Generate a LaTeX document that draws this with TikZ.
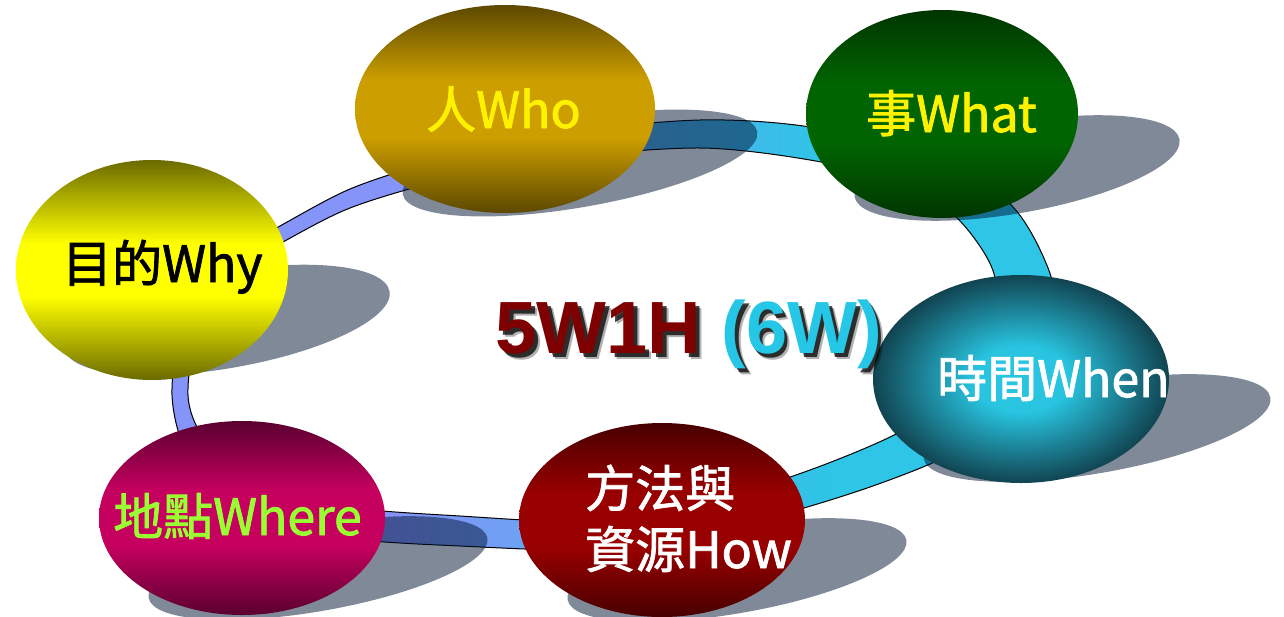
\documentclass[tikz,border=0pt]{standalone}
\usepackage{fontspec}
\usetikzlibrary{shapes.geometric}
\newfontfamily\cjk{Noto Sans CJK TC}[FakeBold=1.6]
\newfontfamily\titlefont{Liberation Sans}
\definecolor{ringL}{HTML}{8494F8}
\definecolor{ringR}{HTML}{2EC5E6}
\definecolor{shadowc}{HTML}{001433}
\definecolor{whoD}{HTML}{5C4800}
\definecolor{whoB}{HTML}{CC9E00}
\definecolor{whatD}{HTML}{003500}
\definecolor{whatB}{HTML}{006400}
\definecolor{whyD}{HTML}{6A6A00}
\definecolor{whyB}{HTML}{FFFF00}
\definecolor{whereD}{HTML}{5A0030}
\definecolor{whereB}{HTML}{C6005F}
\definecolor{howD}{HTML}{480000}
\definecolor{howB}{HTML}{990000}
\definecolor{whenC}{HTML}{28C4E0}
\definecolor{whenE}{HTML}{114451}
\definecolor{tRed}{HTML}{7F0000}
\definecolor{tBlue}{HTML}{26C6E6}
\definecolor{wGreen}{HTML}{99FF33}
\pgfdeclarehorizontalshading{ringshade}{100bp}{color(0bp)=(ringL); color(38bp)=(ringL); color(62bp)=(ringR); color(100bp)=(ringR)}
\pgfdeclareverticalshading{whoshade}{100bp}{color(0bp)=(whoD); color(25bp)=(whoD); color(43bp)=(whoB); color(57bp)=(whoB); color(75bp)=(whoD); color(100bp)=(whoD)}
\pgfdeclareverticalshading{whatshade}{100bp}{color(0bp)=(whatD); color(25bp)=(whatD); color(43bp)=(whatB); color(57bp)=(whatB); color(75bp)=(whatD); color(100bp)=(whatD)}
\pgfdeclareverticalshading{whyshade}{100bp}{color(0bp)=(whyD); color(25bp)=(whyD); color(44bp)=(whyB); color(56bp)=(whyB); color(75bp)=(whyD); color(100bp)=(whyD)}
\pgfdeclareverticalshading{whereshade}{100bp}{color(0bp)=(whereD); color(25bp)=(whereD); color(43bp)=(whereB); color(57bp)=(whereB); color(75bp)=(whereD); color(100bp)=(whereD)}
\pgfdeclareverticalshading{howshade}{100bp}{color(0bp)=(howD); color(25bp)=(howD); color(43bp)=(howB); color(57bp)=(howB); color(75bp)=(howD); color(100bp)=(howD)}
\pgfdeclareradialshading{whenshade}{\pgfpoint{0bp}{0bp}}{color(0bp)=(whenC); color(8bp)=(whenC); color(25bp)=(whenE); color(50bp)=(whenE)}
\tikzset{
  blob/.style={ellipse, inner sep=0pt, draw=none},
  lbl/.style={font=\cjk\fontsize{50}{58}\selectfont, inner sep=0pt, anchor=base west},
  ttl/.style={font=\titlefont\bfseries\fontsize{74}{80}\selectfont, inner sep=0pt, anchor=base west},
  shadowblob/.style={fill=shadowc, fill opacity=0.5}
}
\begin{document}
\begin{tikzpicture}[x=1pt,y=1pt]
\useasboundingbox (0,0) rectangle (1284,-616);
\fill[white] (0,0) rectangle (1284,-616);
\clip (0,0) rectangle (1284,-616);
% ring band
\shade[shading=ringshade, even odd rule, draw=black, line width=1pt]
  plot[smooth cycle] coordinates {(172,-395) (185,-310) (225,-258) (280,-226) (350,-189) (430,-163) (560,-133) (700,-120) (810,-127) (920,-155) (1008,-202) (1048,-268) (1058,-330) (1030,-400) (960,-450) (870,-487) (760,-520) (620,-549) (460,-546) (330,-536) (240,-505) (190,-460)}
  plot[smooth cycle] coordinates {(188,-395) (200,-320) (240,-268) (283,-242) (350,-208) (440,-181) (560,-158) (700,-148) (810,-160) (900,-182) (956,-217) (992,-268) (998,-325) (970,-385) (900,-432) (810,-470) (700,-505) (600,-522) (460,-516) (340,-506) (250,-478) (205,-440)};
% shadows
\fill[shadowblob, rotate around={10:(227,-320)}] (227,-320) ellipse [x radius=165, y radius=48];
\fill[shadowblob, rotate around={10:(580,-163)}] (580,-163) ellipse [x radius=180, y radius=44];
\fill[shadowblob, rotate around={10:(1017,-168)}] (1017,-168) ellipse [x radius=165, y radius=45];
\fill[shadowblob, rotate around={10:(1097,-428)}] (1097,-428) ellipse [x radius=176, y radius=45];
\fill[shadowblob, rotate around={10:(318,-568)}] (318,-568) ellipse [x radius=172, y radius=43];
\fill[shadowblob, rotate around={10:(737,-570)}] (737,-570) ellipse [x radius=172, y radius=43];
% ellipses
\node[blob, shading=whyshade, minimum width=272pt, minimum height=220pt] (why) at (152,-270) {};
\node[blob, shading=whoshade, minimum width=300pt, minimum height=208pt] (who) at (505,-109) {};
\node[blob, shading=whatshade, minimum width=272pt, minimum height=208pt] (what) at (942,-114) {};
\node[blob, shading=whenshade, minimum width=296pt, minimum height=208pt] (when) at (1021,-379) {};
\node[blob, shading=whereshade, minimum width=286pt, minimum height=194pt] (where) at (242,-518) {};
\node[blob, shading=howshade, minimum width=286pt, minimum height=194pt] (how) at (662,-520) {};
% labels
\node[lbl, text=yellow] (whot) at (426,-128) {人Who};
\node[lbl, text=yellow] (whatt) at (866,-132) {事What};
\node[lbl, text=black] (whyt) at (62,-282) {目的Why};
\node[lbl, text=white] (whent) at (937,-397) {時間When};
\node[lbl, text=wGreen] (wheret) at (113,-535) {地點Where};
\node[lbl, text=white] (howa) at (585,-507) {方法與};
\node[lbl, text=white] (howb) at (585,-568) {資源How};
% title
\node[ttl, text=black, opacity=0.3] at (501,-359) {5W1H (6W)};
\node[ttl, text=black, opacity=0.75] at (499,-357) {5W1H (6W)};
\node[ttl] (title) at (495,-353) {\textcolor{tRed}{5W1H} \textcolor{tBlue}{(6W)}};
\end{tikzpicture}
\end{document}
